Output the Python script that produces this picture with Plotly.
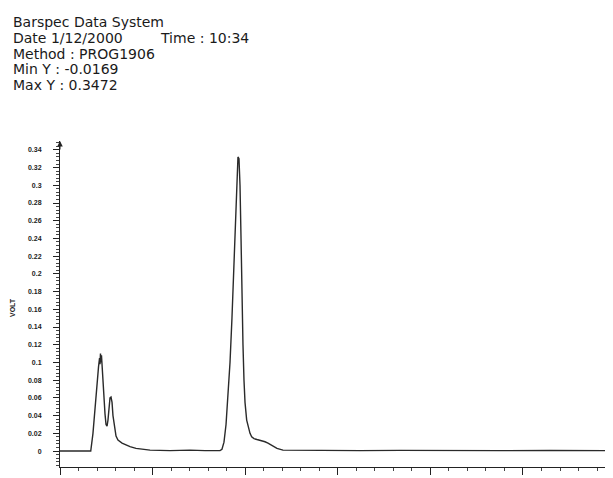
import plotly.graph_objects as go

# ---- data (x in arbitrary time units, 1 unit = one major tick) ----
time = [0.0, 0.332, 0.356, 0.378, 0.400, 0.416, 0.427, 0.432, 0.437, 0.443, 0.448,
        0.454, 0.464, 0.475, 0.486, 0.497, 0.508, 0.518, 0.529, 0.540, 0.551,
        0.562, 0.572, 0.589, 0.605, 0.626, 0.670, 0.713, 0.756, 0.821, 0.886,
        0.972, 1.188, 1.404, 1.566, 1.728, 1.749, 1.771, 1.793, 1.814, 1.836,
        1.857, 1.879, 1.901, 1.911, 1.922, 1.933, 1.944, 1.955, 1.965, 1.976,
        1.987, 1.998, 2.016, 2.036, 2.052, 2.070, 2.095, 2.127, 2.171, 2.214,
        2.246, 2.289, 2.343, 2.408, 2.592, 2.808, 3.024, 3.240, 3.672, 4.212,
        4.752, 5.292, 5.972]
volt = [0.0, 0.0, 0.02, 0.05, 0.08, 0.095, 0.105, 0.098, 0.11, 0.10, 0.108,
        0.095, 0.08, 0.06, 0.042, 0.03, 0.028, 0.035, 0.052, 0.06, 0.061,
        0.055, 0.04, 0.025, 0.017, 0.0125, 0.009, 0.007, 0.005, 0.003, 0.002,
        0.001, 0.0005, 0.001, 0.0005, 0.0005, 0.002, 0.01, 0.03, 0.06, 0.10,
        0.15, 0.22, 0.29, 0.32, 0.332, 0.33, 0.30, 0.24, 0.17, 0.12,
        0.08, 0.055, 0.035, 0.025, 0.02, 0.016, 0.014, 0.013, 0.012, 0.0105,
        0.009, 0.006, 0.003, 0.001, 0.0008, 0.0005, 0.001, 0.0005, 0.0008, 0.0003,
        0.0005, 0.0006, 0.0005]

y_tick_vals = [0, 0.02, 0.04, 0.06, 0.08, 0.1, 0.12, 0.14, 0.16, 0.18, 0.2,
               0.22, 0.24, 0.26, 0.28, 0.3, 0.32, 0.34]
y_tick_text = ["0", "0.02", "0.04", "0.06", "0.08", "0.1", "0.12", "0.14", "0.16",
               "0.18", "0.2", "0.22", "0.24", "0.26", "0.28", "0.3", "0.32", "0.34"]

header_lines = ["Barspec Data System", "Date 1/12/2000", "Method : PROG1906",
                "Min Y : -0.0169", "Max Y : 0.3472"]
time_text = "Time : 10:34"

# The page has an 8px body margin; layout is computed in page pixels minus it.
OFF = 8
W, H = 613, 478
L, R, T, B = 60 - OFF, OFF, 141 - OFF, 478 - (467 - OFF)
X_RANGE = [0, 5.972]
Y_RANGE = [-0.018, 0.35]

def px_to_paper_x(px):
    return (px - OFF - L) / (W - L - R)

def py_to_paper_y(py):
    return (H - B - (py - OFF)) / (H - T - B)

fig = go.Figure()
fig.add_trace(go.Scatter(x=time, y=volt, mode="lines",
                         line=dict(color="#2a2a2a", width=1.4),
                         hoverinfo="skip", showlegend=False))

font_head = dict(family="DejaVu Sans", size=14, color="#1a1a1a")
annotations = []
for i, line in enumerate(header_lines):
    annotations.append(dict(text=line, xref="paper", yref="paper",
                            x=px_to_paper_x(10.5), y=py_to_paper_y(22 + i * 15.8),
                            xanchor="left", yanchor="middle", showarrow=False,
                            font=font_head))
annotations.append(dict(text=time_text, xref="paper", yref="paper",
                        x=px_to_paper_x(157.5), y=py_to_paper_y(22 + 15.8),
                        xanchor="left", yanchor="middle", showarrow=False,
                        font=font_head))
# y-axis label
annotations.append(dict(text="VOLT", xref="paper", yref="paper",
                        x=px_to_paper_x(12), y=py_to_paper_y(308),
                        xanchor="center", yanchor="middle", showarrow=False,
                        textangle=-90,
                        font=dict(family="Liberation Sans", size=7, color="#222",
                                  weight="bold")))
# arrow at top of y axis
annotations.append(dict(x=0, y=Y_RANGE[1], xref="x", yref="y", text="",
                        showarrow=True, arrowhead=2, arrowsize=1.1, arrowwidth=1,
                        arrowcolor="#222", ax=0, ay=10))

fig.update_layout(
    width=W, height=H,
    margin=dict(l=L, r=R, t=T, b=B, autoexpand=False),
    paper_bgcolor="white", plot_bgcolor="white",
    annotations=annotations,
    xaxis=dict(range=X_RANGE, showgrid=False, zeroline=False, automargin=False,
               showline=True, linecolor="#222", linewidth=1,
               ticks="outside", dtick=1, tick0=0, ticklen=7, tickcolor="#222",
               tickwidth=1, showticklabels=False,
               minor=dict(dtick=0.2, tick0=0, ticks="outside", ticklen=3,
                          tickcolor="#444", tickwidth=1, showgrid=False)),
    yaxis=dict(range=Y_RANGE, showgrid=False, zeroline=False, automargin=False,
               showline=True, linecolor="#222", linewidth=1,
               ticks="outside", tickvals=y_tick_vals, ticktext=y_tick_text,
               ticklen=6, tickcolor="#222", tickwidth=1,
               ticklabelstandoff=10,
               tickfont=dict(family="Liberation Sans", size=7, color="#222",
                             weight="bold"),
               minor=dict(dtick=0.004, tick0=0, ticks="outside", ticklen=3,
                          tickcolor="#444", tickwidth=1, showgrid=False)),
)

fig.write_html("out.html")
